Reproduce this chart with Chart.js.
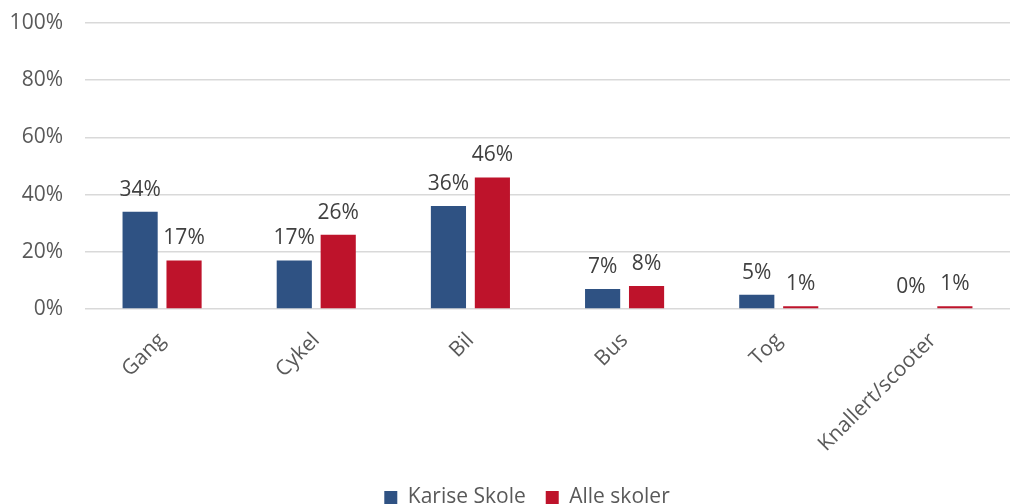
<!DOCTYPE html>
<html>
<head>
<meta charset="utf-8">
<script src="https://cdn.jsdelivr.net/npm/chart.js@4/dist/chart.umd.min.js"></script>
<style>
  html, body { margin: 0; padding: 0; background: #fff; }
  #wrap { width: 1013px; height: 504px; position: relative; }
</style>
</head>
<body>
<div id="wrap"><canvas id="c"></canvas></div>
<script>
const categories = ['Gang', 'Cykel', 'Bil', 'Bus', 'Tog', 'Knallert/scooter'];
const kariseSkole = [34, 17, 36, 7, 5, 0];
const alleSkoler = [17, 26, 46, 8, 1, 1];
const yTicks = [0, 20, 40, 60, 80, 100];

const FONT = "'Open Sans', 'Noto Sans', sans-serif";
const TEXT = '#595959';

// Draws the percentage value above each bar
const valueLabels = {
  id: 'valueLabels',
  afterDatasetsDraw(chart) {
    const ctx = chart.ctx;
    ctx.save();
    ctx.font = '21px ' + FONT;
    ctx.fillStyle = '#404040';
    ctx.textAlign = 'center';
    ctx.textBaseline = 'alphabetic';
    chart.data.datasets.forEach((ds, i) => {
      const meta = chart.getDatasetMeta(i);
      meta.data.forEach((bar, j) => {
        ctx.fillText(ds.data[j] + '%', bar.x, bar.y - 16);
      });
    });
    ctx.restore();
  }
};

// Centres the legend under the plot area rather than the whole canvas
const legendShift = {
  id: 'legendShift',
  afterLayout(chart) {
    const lg = chart.legend;
    if (lg) { lg.left += 17; lg.right += 17; }
  }
};

new Chart(document.getElementById('c'), {
  type: 'bar',
  data: {
    labels: categories,
    datasets: [
      { label: 'Karise Skole', data: kariseSkole, backgroundColor: '#2F5283' },
      { label: 'Alle skoler', data: alleSkoler, backgroundColor: '#BE132B' }
    ]
  },
  options: {
    responsive: true,
    maintainAspectRatio: false,
    animation: false,
    layout: { padding: { top: 23, left: 10, right: 3, bottom: -14 } },
    datasets: { bar: { categoryPercentage: 0.57, barPercentage: 0.8 } },
    scales: {
      x: {
        grid: { display: false },
        border: { display: false },
        afterFit(axis) {
          axis.paddingLeft = 0;
          axis.paddingRight = 0;
          axis.height = 158;
        },
        ticks: {
          font: { family: FONT, size: 21 },
          color: TEXT,
          maxRotation: 45,
          minRotation: 45,
          padding: 11
        }
      },
      y: {
        min: 0,
        max: 100,
        afterBuildTicks(axis) { axis.ticks = yTicks.map(v => ({ value: v })); },
        afterFit(axis) {
          axis.paddingTop = 0;
          axis.paddingBottom = 0;
          axis.width = 75;
        },
        grid: { color: '#D9D9D9', lineWidth: 1.6, drawTicks: false },
        border: { display: false },
        ticks: {
          font: { family: FONT, size: 21 },
          color: TEXT,
          padding: 22,
          callback: v => v + '%'
        }
      }
    },
    plugins: {
      legend: {
        position: 'bottom',
        labels: {
          font: { family: FONT, size: 21 },
          color: TEXT,
          boxWidth: 13,
          boxHeight: 13,
          padding: 20
        }
      },
      tooltip: { enabled: false }
    }
  },
  plugins: [valueLabels, legendShift]
});
</script>
</body>
</html>
